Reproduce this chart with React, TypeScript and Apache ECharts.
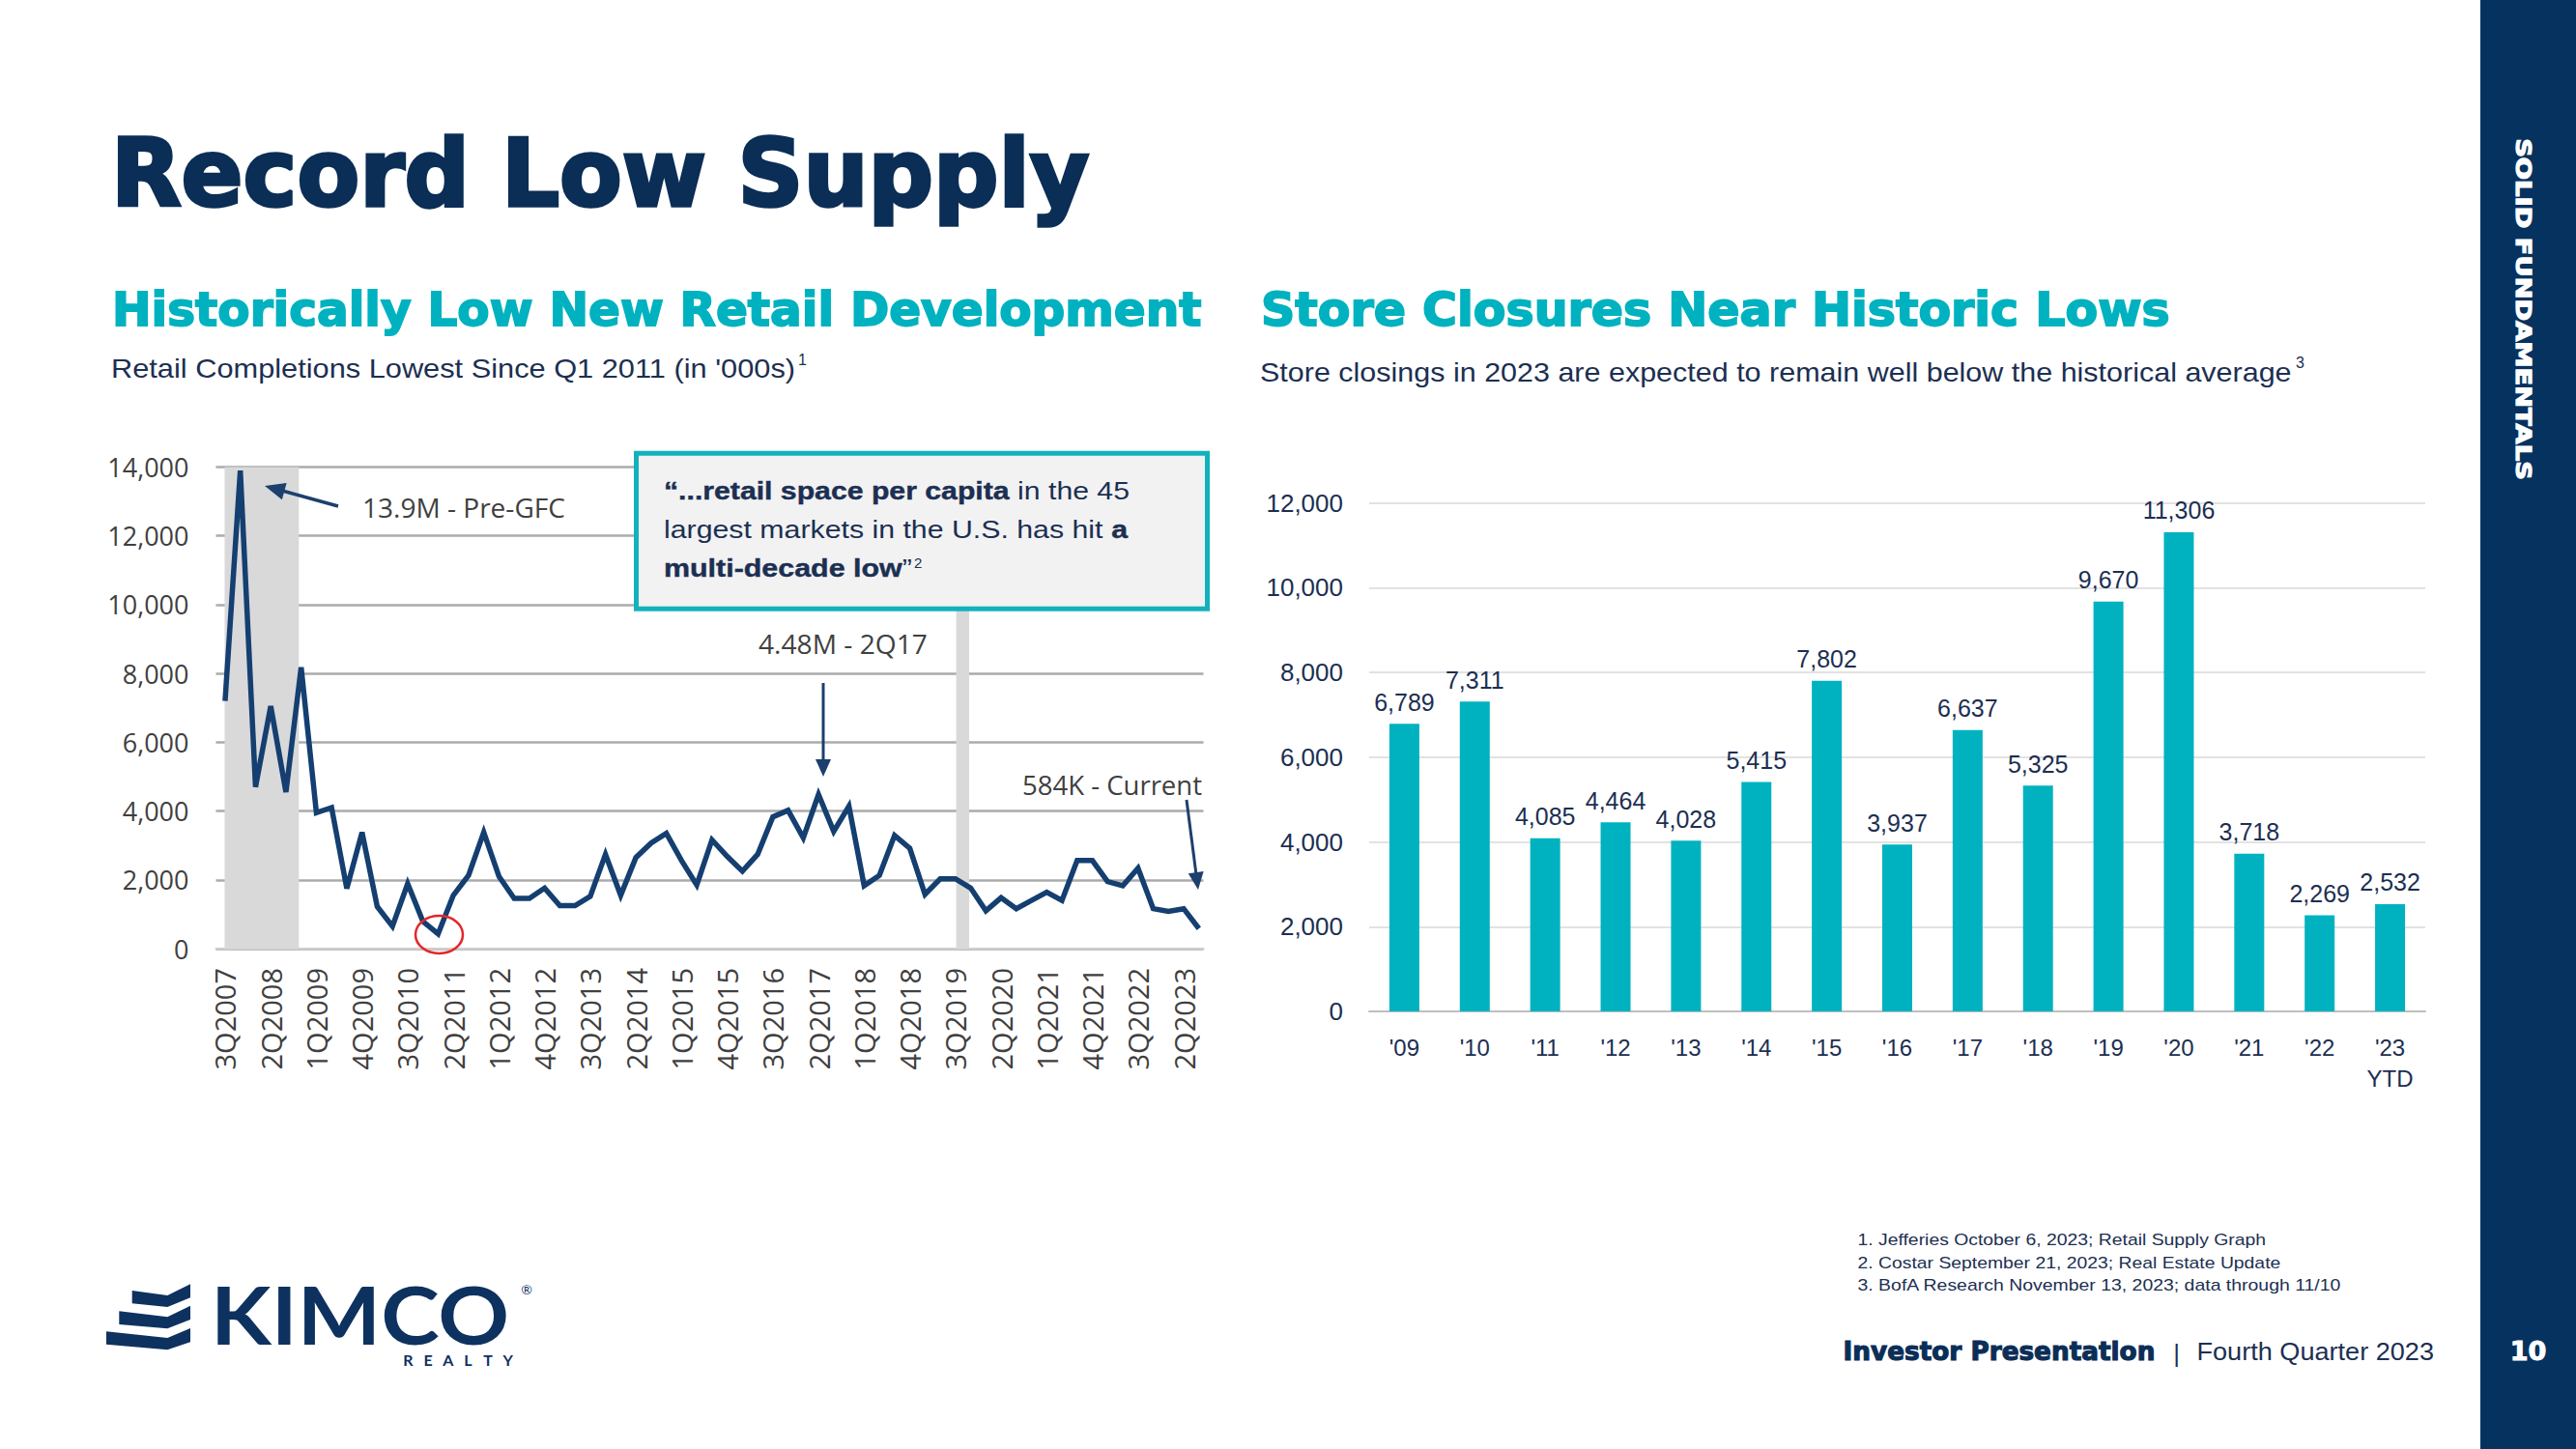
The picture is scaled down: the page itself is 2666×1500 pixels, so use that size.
import React, { useEffect, useRef } from 'react';
import * as echarts from 'echarts';

// ---------- data ----------
const quarterTicks = ['3Q2007', '2Q2008', '1Q2009', '4Q2009', '3Q2010', '2Q2011', '1Q2012', '4Q2012', '3Q2013', '2Q2014', '1Q2015', '4Q2015', '3Q2016', '2Q2017', '1Q2018', '4Q2018', '3Q2019', '2Q2020', '1Q2021', '4Q2021', '3Q2022', '2Q2023'];
const quartersPerTick = 3;
// quarterly retail completions ('000s sf), 3Q2007 .. 3Q2023
const completions = [
  7200, 13900, 4700, 7050, 4550, 8180, 3950, 4100, 1750, 3380,
  1220, 650, 1890, 790, 430, 1550, 2130, 3380, 2100, 1460,
  1460, 1760, 1250, 1250, 1520, 2740, 1550, 2650, 3070, 3350,
  2560, 1850, 3160, 2680, 2250, 2740, 3830, 4020, 3220, 4480,
  3410, 4140, 1830, 2130, 3290, 2920, 1580, 2030, 2030, 1760,
  1100, 1480, 1160, 1400, 1640, 1400, 2560, 2560, 1950, 1830,
  2340, 1160, 1080, 1160, 584,
];
const shadedPeriods = [[-0.03, 4.85], [48.05, 48.9]];
const lineYTicks = { min: 0, max: 14000, step: 2000 };

const years = ["'09", "'10", "'11", "'12", "'13", "'14", "'15", "'16", "'17", "'18", "'19", "'20", "'21", "'22", "'23\nYTD"];
const storeClosures = [6789, 7311, 4085, 4464, 4028, 5415, 7802, 3937, 6637, 5325, 9670, 11306, 3718, 2269, 2532];
const barYTicks = { min: 0, max: 12000, step: 2000 };

const footnotes = [
  '1. Jefferies October 6, 2023; Retail Supply Graph',
  '2. Costar September 21, 2023; Real Estate Update',
  '3. BofA Research November 13, 2023; data through 11/10',
];

// ---------- styles ----------
const NAVY = '#0b2e57';
const TEXT_NAVY = '#1c2f52';
const TEAL = '#00b2bf';
const SIDEBAR = '#06325f';
const GRAY_TXT = '#404040';
const HEAVY = 'DejaVu Sans';
const SANS = 'Liberation Sans';
const CHART_FONT = 'Open Sans';

let measureCtx: CanvasRenderingContext2D | null = null;
function measure(text: string, size: number, family: string, weight: string = 'normal') {
  if (!measureCtx) measureCtx = document.createElement('canvas').getContext('2d');
  if (!measureCtx) return text.length * size * 0.5;
  measureCtx.font = `${weight} ${size}px "${family}"`;
  return measureCtx.measureText(text).width;
}

function fitText(o: any) {
  const weight = o.weight || 'normal';
  const natural = measure(o.text, o.size, o.family, weight);
  const sx = o.width ? o.width / natural : 1;
  const align = o.align || 'left';
  const style: any = {
    text: o.text,
    fill: o.color,
    fontSize: o.size,
    fontFamily: o.family,
    fontWeight: weight,
    align,
    textAlign: align,
    verticalAlign: 'middle',
    textVerticalAlign: 'middle',
  };
  if (o.stroke) {
    style.stroke = o.color;
    style.lineWidth = o.stroke;
  }
  return {
    type: 'text',
    x: o.x,
    y: o.y,
    scaleX: sx,
    rotation: o.rotation || 0,
    z: o.z || 100,
    silent: true,
    style,
  };
}

function segLine(segs: any[], x0: number, y: number, size: number, family: string, color: string, target: number) {
  const widths = segs.map((s) => measure(s.t, size, family, s.b ? 'bold' : 'normal'));
  const total = widths.reduce((a, b) => a + b, 0);
  const sx = target / total;
  let acc = 0;
  return segs.map((s, i) => {
    const el = fitText({ text: s.t, x: x0 + acc * sx, y, size, family, color, weight: s.b ? 'bold' : 'normal', z: 120, stroke: s.b ? 0.4 : 0 });
    el.scaleX = sx;
    acc += widths[i];
    return el;
  });
}

function arrow(x1: number, y1: number, x2: number, y2: number, headLen: number, headHalf: number, color: string, width: number) {
  const dx = x2 - x1;
  const dy = y2 - y1;
  const len = Math.sqrt(dx * dx + dy * dy);
  const ux = dx / len;
  const uy = dy / len;
  const bx = x2 - ux * headLen;
  const by = y2 - uy * headLen;
  const px = -uy;
  const py = ux;
  return [
    { type: 'line', z: 110, silent: true, shape: { x1, y1, x2: bx + ux * 2, y2: by + uy * 2 }, style: { stroke: color, lineWidth: width } },
    {
      type: 'polygon', z: 110, silent: true,
      shape: { points: [[x2, y2], [bx + px * headHalf, by + py * headHalf], [bx - px * headHalf, by - py * headHalf]] },
      style: { fill: color },
    },
  ];
}

const fmt = (v: number) => Number(v).toLocaleString('en-US');

function buildGraphics() {
  const els: any[] = [];
  // sidebar
  els.push({ type: 'rect', z: 90, silent: true, shape: { x: 2567, y: 0, width: 99, height: 1500 }, style: { fill: SIDEBAR } });
  els.push(fitText({ text: 'SOLID FUNDAMENTALS', x: 2612, y: 320, size: 22, family: HEAVY, weight: 'bold', color: '#ffffff', width: 354, rotation: -Math.PI / 2, align: 'center', stroke: 1.2 }));
  els.push(fitText({ text: '10', x: 2616.5, y: 1398, size: 27, family: HEAVY, weight: 'bold', color: '#ffffff', align: 'center', stroke: 1 }));

  // titles
  els.push(fitText({ text: 'Record Low Supply', x: 115, y: 180, size: 96, family: HEAVY, weight: 'bold', color: NAVY, width: 1012, stroke: 3.5 }));
  els.push(fitText({ text: 'Historically Low New Retail Development', x: 116, y: 320.5, size: 48, family: HEAVY, weight: 'bold', color: TEAL, width: 1128, stroke: 1.8 }));
  els.push(fitText({ text: 'Store Closures Near Historic Lows', x: 1305, y: 320.5, size: 48, family: HEAVY, weight: 'bold', color: TEAL, width: 941, stroke: 1.8 }));
  els.push(fitText({ text: "Retail Completions Lowest Since Q1 2011 (in '000s)", x: 115, y: 381.5, size: 28, family: SANS, color: TEXT_NAVY, width: 708 }));
  els.push(fitText({ text: '1', x: 826, y: 372, size: 16, family: SANS, color: TEXT_NAVY }));
  els.push(fitText({ text: 'Store closings in 2023 are expected to remain well below the historical average', x: 1304, y: 385, size: 28, family: SANS, color: TEXT_NAVY, width: 1068 }));
  els.push(fitText({ text: '3', x: 2376, y: 375, size: 16, family: SANS, color: TEXT_NAVY }));

  // quote box
  els.push({ type: 'rect', z: 115, silent: true, shape: { x: 658.5, y: 469.2, width: 591, height: 161 }, style: { fill: '#f2f2f2', stroke: '#12b2bd', lineWidth: 5 } });
  els.push(...segLine([{ t: '\u201C...retail space per capita', b: true }, { t: ' in the 45', b: false }], 687, 508, 25, SANS, TEXT_NAVY, 482));
  els.push(...segLine([{ t: 'largest markets in the U.S. has hit ', b: false }, { t: 'a', b: true }], 687, 548, 25, SANS, TEXT_NAVY, 480));
  els.push(...segLine([{ t: 'multi-decade low', b: true }, { t: '\u201D', b: false }], 687, 588, 25, SANS, TEXT_NAVY, 257));
  els.push(fitText({ text: '2', x: 946, y: 582, size: 15, family: SANS, color: TEXT_NAVY, z: 120 }));

  // annotations on the line chart
  els.push(fitText({ text: '13.9M - Pre-GFC', x: 375, y: 525, size: 28, family: CHART_FONT, color: GRAY_TXT, width: 210 }));
  els.push(fitText({ text: '4.48M - 2Q17', x: 785, y: 666, size: 28, family: CHART_FONT, color: GRAY_TXT, width: 175 }));
  els.push(fitText({ text: '584K - Current', x: 1058, y: 812, size: 28, family: CHART_FONT, color: GRAY_TXT, width: 186 }));
  const AR = '#1d3f6e';
  els.push(...arrow(350, 524, 274, 503, 21, 9, AR, 3.5));
  els.push(...arrow(852, 707, 852, 804, 18, 8, AR, 3));
  els.push(...arrow(1228, 828, 1240, 921, 18, 8, AR, 3));
  els.push({ type: 'ellipse', z: 110, silent: true, shape: { cx: 454.5, cy: 967.5, rx: 24.5, ry: 19.5 }, style: { fill: 'none', stroke: '#e3262b', lineWidth: 2.5 } });

  // footnotes
  const fnY = [1283.5, 1307.2, 1331];
  const fnW = [423, 438, 501];
  footnotes.forEach((t, i) => els.push(fitText({ text: t, x: 1922.5, y: fnY[i], size: 16, family: SANS, color: TEXT_NAVY, width: fnW[i] })));

  // footer
  els.push(fitText({ text: 'Investor Presentation', x: 1907.5, y: 1399.5, size: 26, family: HEAVY, weight: 'bold', color: NAVY, width: 323, stroke: 1.1 }));
  els.push(fitText({ text: '|', x: 2252.5, y: 1401, size: 26, family: SANS, color: TEXT_NAVY, align: 'center' }));
  els.push(fitText({ text: 'Fourth Quarter 2023', x: 2273.5, y: 1399, size: 25, family: SANS, color: TEXT_NAVY, width: 245.5 }));

  // logo
  const LOGO = '#0e3260';
  const bars = [
    [[136.7, 1336], [173.3, 1341], [197, 1329.3], [197, 1343.3], [173.3, 1353], [136.7, 1349.3]],
    [[123.3, 1357.3], [173.3, 1363.3], [197, 1351.7], [197, 1366], [173.3, 1375.3], [123.3, 1371]],
    [[110, 1378.3], [173.3, 1385], [197, 1375], [197, 1389.3], [173.3, 1397.3], [110, 1391.7]],
  ];
  bars.forEach((pts) => els.push({ type: 'polygon', z: 100, silent: true, shape: { points: pts }, style: { fill: LOGO } }));
  els.push(fitText({ text: 'KIMCO', x: 218, y: 1360, size: 82, family: 'Lato', weight: 'bold', color: LOGO, width: 309 }));
  const realty = 'REALTY';
  realty.split('').forEach((ch, i) => els.push(fitText({ text: ch, x: 422.3 + i * 20.7, y: 1407.5, size: 16, family: 'Lato', weight: 'bold', color: LOGO, align: 'center' })));
  els.push(fitText({ text: '\u00AE', x: 545, y: 1334, size: 14, family: 'Lato', color: LOGO, align: 'center' }));
  return els;
}

export default function App() {
  const ref = useRef<HTMLDivElement>(null);
  useEffect(() => {
    document.body.style.margin = '0';
    if (!ref.current) return;
    const chart = echarts.init(ref.current, undefined, { renderer: 'svg' });
    const option: any = {
      animation: false,
      backgroundColor: '#ffffff',
      grid: [
        { left: 223.5, top: 483.5, width: 1022, height: 498.5 },
        { left: 1417, top: 520.5, width: 1093, height: 526.5 },
      ],
      xAxis: [
        {
          gridIndex: 0,
          type: 'value',
          min: -0.6,
          max: 64.3,
          splitLine: { show: false },
          axisTick: { show: false },
          axisLine: { show: true, lineStyle: { color: '#cfcfcf', width: 2 } },
          axisLabel: {
            customValues: quarterTicks.map((_, i) => i * quartersPerTick),
            formatter: (v: number) => quarterTicks[Math.round(v / quartersPerTick)] || '',
            rotate: 90,
            margin: 20,
            fontSize: 29,
            fontFamily: CHART_FONT,
            color: GRAY_TXT,
          },
        },
        {
          gridIndex: 1,
          type: 'category',
          data: years,
          axisTick: { show: false },
          axisLine: { show: true, lineStyle: { color: '#bfbfbf', width: 2 } },
          axisLabel: { margin: 21, fontSize: 24, lineHeight: 32, fontFamily: SANS, color: TEXT_NAVY },
        },
      ],
      yAxis: [
        {
          gridIndex: 0,
          type: 'value',
          min: lineYTicks.min,
          max: lineYTicks.max,
          interval: lineYTicks.step,
          axisLine: { show: false },
          axisTick: { show: false },
          splitLine: { show: true, lineStyle: { color: '#ababab', width: 2.5 } },
          axisLabel: { margin: 28, fontSize: 27, fontFamily: CHART_FONT, color: GRAY_TXT, formatter: fmt },
        },
        {
          gridIndex: 1,
          type: 'value',
          min: barYTicks.min,
          max: barYTicks.max,
          interval: barYTicks.step,
          axisLine: { show: false },
          axisTick: { show: false },
          splitLine: { show: true, lineStyle: { color: '#d9d9d9', width: 1.5 } },
          axisLabel: { margin: 27, fontSize: 26, fontFamily: SANS, color: TEXT_NAVY, formatter: fmt },
        },
      ],
      series: [
        {
          type: 'line',
          xAxisIndex: 0,
          yAxisIndex: 0,
          z: 1,
          silent: true,
          symbol: 'none',
          data: completions.map((v, i) => [i, v]),
          lineStyle: { opacity: 0, width: 0 },
          markArea: {
            silent: true,
            itemStyle: { color: '#d9d9d9', opacity: 1 },
            data: shadedPeriods.map(([a, b]) => [{ xAxis: a }, { xAxis: b }]),
          },
        },
        {
          type: 'line',
          xAxisIndex: 0,
          yAxisIndex: 0,
          z: 5,
          symbol: 'none',
          data: completions.map((v, i) => [i, v]),
          lineStyle: { color: '#143f70', width: 5.5, join: 'miter' },
        },
        {
          type: 'bar',
          xAxisIndex: 1,
          yAxisIndex: 1,
          barWidth: 31,
          data: storeClosures,
          itemStyle: { color: TEAL },
          label: {
            show: true,
            position: 'top',
            distance: 10,
            fontSize: 25,
            fontFamily: SANS,
            color: TEXT_NAVY,
            formatter: (p: any) => fmt(p.value),
          },
        },
      ],
      graphic: { elements: buildGraphics() },
    };
    chart.setOption(option);
    return () => chart.dispose();
  }, []);
  return <div ref={ref} style={{ position: 'absolute', left: 0, top: 0, width: 2666, height: 1500 }} />;
}
